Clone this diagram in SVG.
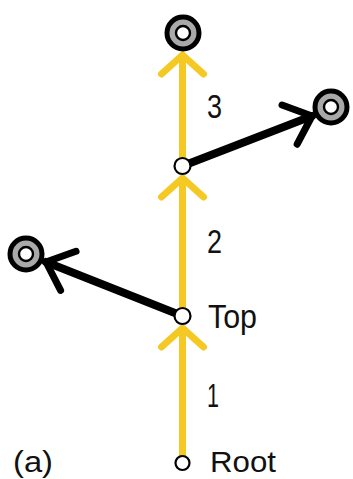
<svg xmlns="http://www.w3.org/2000/svg" width="353" height="479" viewBox="0 0 353 479">
<style>
.y{stroke:#F5C923;stroke-width:7;fill:none;stroke-linecap:butt}
.b{stroke:#000;stroke-width:8;fill:none;stroke-linecap:round}
.n{fill:#fff;stroke:#000;stroke-width:2.2}
.to{fill:#A9A9A9;stroke:#000;stroke-width:5}
.ti{fill:#fff;stroke:#000;stroke-width:2.4}
text{font-family:"Liberation Sans",Arial,sans-serif;font-size:33px;fill:#111}
.s{font-size:30px}
</style>
<defs>
<marker id="ay" markerUnits="userSpaceOnUse" viewBox="-30 -30 40 60" refX="0" refY="0" markerWidth="40" markerHeight="60" orient="auto" overflow="visible">
<path d="M-19,-21 L0,0 L-19,21" fill="none" stroke="#F5C923" stroke-width="7" stroke-linecap="round" stroke-linejoin="round"/>
</marker>
<marker id="ab" markerUnits="userSpaceOnUse" viewBox="-30 -30 40 60" refX="0" refY="0" markerWidth="40" markerHeight="60" orient="auto" overflow="visible">
<path d="M-24,-21 L0,0 L-24,21" fill="none" stroke="#000" stroke-width="7" stroke-linecap="round" stroke-linejoin="round"/>
</marker>
</defs>
<g id="connectors">
<line class="y" x1="182.5" y1="463" x2="182.5" y2="328" marker-end="url(#ay)"/>
<line class="y" x1="182.5" y1="316" x2="182.5" y2="178" marker-end="url(#ay)"/>
<line class="y" x1="182.5" y1="166" x2="182.5" y2="55" marker-end="url(#ay)"/>
<line class="b" x1="182.5" y1="166" x2="312" y2="116" marker-end="url(#ab)"/>
<line class="b" x1="182.5" y1="316" x2="46" y2="262" marker-end="url(#ab)"/>
</g>
<g id="root"><circle class="n" cx="182.5" cy="463" r="7"/><text class="s" x="210" y="472" textLength="66" lengthAdjust="spacingAndGlyphs">Root</text></g>
<g id="top"><circle class="n" cx="182.5" cy="316" r="8"/><text x="208" y="328" textLength="49" lengthAdjust="spacingAndGlyphs">Top</text></g>
<g id="mid"><circle class="n" cx="182.5" cy="166" r="8"/></g>
<g id="target-top"><circle class="to" cx="183" cy="33" r="16"/><circle class="ti" cx="183" cy="33" r="7"/></g>
<g id="target-right"><circle class="to" cx="331" cy="107" r="16"/><circle class="ti" cx="331" cy="107" r="7"/></g>
<g id="target-left"><circle class="to" cx="26" cy="254" r="16"/><circle class="ti" cx="26" cy="254" r="7"/></g>
<g id="labels">
<text x="207" y="118" textLength="15" lengthAdjust="spacingAndGlyphs">3</text>
<text x="207" y="253" textLength="15" lengthAdjust="spacingAndGlyphs">2</text>
<text x="207" y="407" textLength="12" lengthAdjust="spacingAndGlyphs">1</text>
<text class="s" x="13" y="472" textLength="40" lengthAdjust="spacingAndGlyphs">(a)</text>
</g>
</svg>
